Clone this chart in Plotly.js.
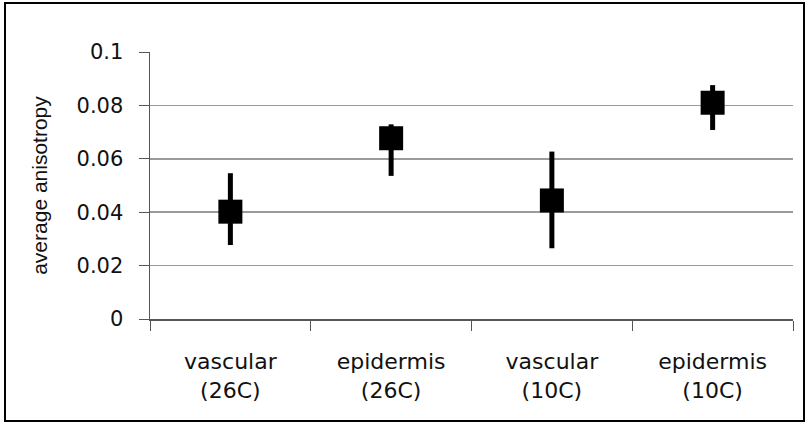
<!DOCTYPE html>
<html>
<head>
<meta charset="utf-8">
<script src="https://cdn.plot.ly/plotly-3.0.1.min.js"></script>
<style>
  html, body { margin: 0; padding: 0; background: #fff; }
  #wrap { position: relative; width: 806px; height: 424px; }
  #chart { width: 806px; height: 424px; }
  #frame { position: absolute; left: 4px; top: 2px; width: 797px; height: 416px; border: 2px solid #000; pointer-events: none; }
</style>
</head>
<body>
<div id="wrap">
  <div id="chart"></div>
  <div id="frame"></div>
</div>
<script>
const categories = ["vascular<br>(26C)", "epidermis<br>(26C)", "vascular<br>(10C)", "epidermis<br>(10C)"];
const means = [0.0402, 0.0677, 0.0444, 0.0810];
const upper = [0.0546, 0.0729, 0.0627, 0.0876];
const lower = [0.0277, 0.0536, 0.0265, 0.0708];
const yTickVals = [0, 0.02, 0.04, 0.06, 0.08, 0.1];
const yTickText = ["0", "0.02", "0.04", "0.06", "0.08", "0.1"];

const plus = means.map((m, i) => upper[i] - m);
const minus = means.map((m, i) => m - lower[i]);

const trace = {
  type: "scatter",
  mode: "markers",
  x: categories,
  y: means,
  marker: { symbol: "square", size: 24, color: "#000" },
  error_y: {
    type: "data",
    symmetric: false,
    array: plus,
    arrayminus: minus,
    color: "#000",
    thickness: 5,
    width: 0
  },
  hoverinfo: "skip",
  showlegend: false
};

const layout = {
  width: 806,
  height: 424,
  margin: { l: 150, r: 13, t: 52, b: 105 },
  paper_bgcolor: "#fff",
  plot_bgcolor: "#fff",
  xaxis: {
    type: "category",
    range: [-0.5, 3.5],
    showgrid: false,
    zeroline: false,
    showline: true,
    linecolor: "#555",
    linewidth: 2,
    ticks: "outside",
    tickson: "boundaries",
    ticklen: 10,
    tickcolor: "#555",
    tickwidth: 1,
    tickfont: { family: "DejaVu Sans", size: 22, color: "#111" },
    ticklabelstandoff: 22
  },
  yaxis: {
    range: [0, 0.1],
    tickvals: yTickVals,
    ticktext: yTickText,
    showgrid: true,
    gridcolor: "#9a9a9a",
    gridwidth: 1.5,
    zeroline: false,
    showline: true,
    linecolor: "#555",
    linewidth: 1.5,
    ticks: "outside",
    ticklen: 10,
    tickcolor: "#555",
    tickwidth: 1,
    tickfont: { family: "DejaVu Sans", size: 21, color: "#111" },
    ticklabelstandoff: 11,
    title: {
      text: "average anisotropy",
      font: { family: "Liberation Sans", size: 21, color: "#111" },
      standoff: 23
    }
  }
};

Plotly.newPlot("chart", [trace], layout, { displayModeBar: false, staticPlot: true });
</script>
</body>
</html>
